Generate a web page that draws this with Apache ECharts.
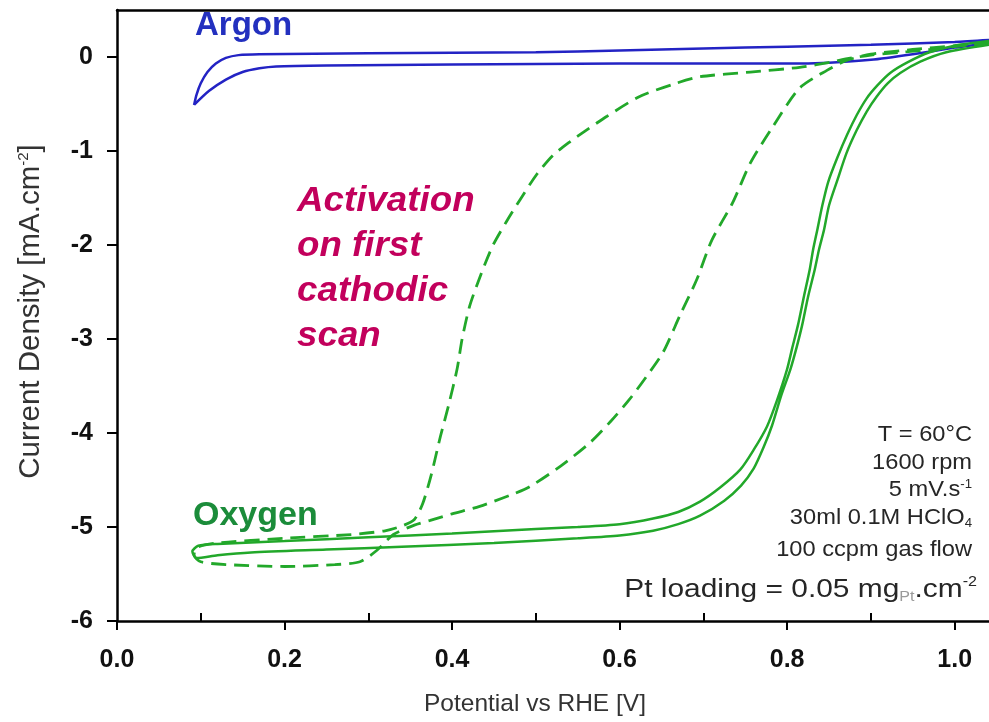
<!DOCTYPE html>
<html>
<head>
<meta charset="utf-8">
<script src="https://cdn.jsdelivr.net/npm/echarts@6/dist/echarts.min.js"></script>
<style>
html,body{margin:0;padding:0;background:#fff;}
#chart{width:989px;height:722px;}
</style>
</head>
<body>
<div id="chart"></div>
<script>
// ---- data (potential V, current density mA/cm2) ----
const xTicks = [0, 0.2, 0.4, 0.6, 0.8, 1.0];
const xMinorTicks = [0.1, 0.3, 0.5, 0.7, 0.9];
const yTicks = [-6, -5, -4, -3, -2, -1, 0];

const argonLoop = [
  [0.092,-0.51],[0.095,-0.40],[0.10,-0.28],[0.108,-0.16],[0.118,-0.07],[0.13,-0.01],[0.145,0.02],[0.17,0.03],
  [0.3,0.04],[0.5,0.05],[0.6,0.07],[0.7,0.09],[0.8,0.11],[0.9,0.13],[1.0,0.16],[1.041,0.18],
  [1.041,0.16],[1.0,0.10],[0.95,0.03],[0.9,-0.03],[0.85,-0.06],[0.8,-0.07],[0.6,-0.07],[0.4,-0.08],
  [0.25,-0.09],[0.19,-0.10],[0.17,-0.12],[0.15,-0.16],[0.13,-0.24],[0.11,-0.36],[0.092,-0.51]
];

const oxygenLoop = [
  [1.041,0.17],[1.0,0.12],[0.97,0.05],[0.943,-0.06],[0.923,-0.17],[0.908,-0.30],[0.895,-0.44],[0.883,-0.62],
  [0.872,-0.82],[0.86,-1.07],[0.849,-1.33],[0.842,-1.58],[0.836,-1.84],[0.831,-2.05],[0.827,-2.26],[0.82,-2.55],[0.813,-2.85],
  [0.806,-3.10],[0.80,-3.32],[0.788,-3.65],[0.776,-3.93],[0.76,-4.18],[0.744,-4.39],[0.72,-4.58],[0.696,-4.73],
  [0.67,-4.84],[0.64,-4.91],[0.6,-4.97],[0.55,-5.00],[0.5,-5.02],[0.4,-5.07],[0.3,-5.11],[0.2,-5.15],
  [0.12,-5.18],[0.097,-5.20],[0.09,-5.26],
  [0.095,-5.33],[0.12,-5.30],[0.16,-5.27],[0.25,-5.24],[0.34,-5.21],[0.45,-5.17],[0.55,-5.12],[0.6,-5.09],
  [0.64,-5.04],[0.67,-4.97],[0.696,-4.88],[0.725,-4.72],[0.745,-4.56],[0.76,-4.38],[0.772,-4.15],[0.782,-3.92],
  [0.793,-3.60],[0.804,-3.32],[0.811,-3.10],[0.818,-2.85],[0.825,-2.55],[0.833,-2.26],[0.838,-2.05],[0.844,-1.84],[0.85,-1.58],
  [0.86,-1.31],[0.871,-1.02],[0.883,-0.78],[0.895,-0.58],[0.907,-0.42],[0.92,-0.28],[0.935,-0.17],[0.959,-0.05],
  [0.99,0.05],[1.041,0.13]
];

const activationScan = [
  [1.041,0.15],[1.0,0.11],[0.96,0.07],[0.935,0.05],[0.9,0.02],[0.87,-0.02],[0.855,-0.05],[0.815,-0.11],
  [0.756,-0.16],[0.696,-0.21],[0.664,-0.29],[0.624,-0.42],[0.585,-0.63],[0.56,-0.78],[0.541,-0.90],[0.52,-1.05],
  [0.501,-1.25],[0.481,-1.52],[0.465,-1.75],[0.449,-2.00],[0.435,-2.30],[0.421,-2.65],[0.412,-3.00],[0.406,-3.32],
  [0.396,-3.70],[0.386,-4.04],[0.375,-4.45],[0.365,-4.75],[0.355,-4.92],[0.34,-4.99],[0.32,-5.04],[0.28,-5.08],
  [0.2,-5.12],[0.12,-5.17],[0.095,-5.22],[0.092,-5.30],[0.10,-5.37],[0.13,-5.40],[0.2,-5.42],[0.26,-5.40],
  [0.29,-5.37],[0.31,-5.25],[0.33,-5.08],[0.355,-4.98],[0.374,-4.93],[0.4,-4.86],[0.433,-4.78],[0.47,-4.66],
  [0.493,-4.57],[0.53,-4.35],[0.565,-4.10],[0.59,-3.87],[0.612,-3.64],[0.632,-3.40],[0.652,-3.14],[0.672,-2.75],
  [0.692,-2.37],[0.71,-1.95],[0.735,-1.55],[0.756,-1.13],[0.783,-0.74],[0.815,-0.33],[0.848,-0.14],[0.87,-0.04],
  [0.9,0.03],[0.95,0.08],[1.0,0.12],[1.041,0.16]
];

const conditions = ['T = 60°C', '1600 rpm', '5 mV.s{sup|-1}', '30ml 0.1M HClO{sub|4}', '100 ccpm gas flow'];

// ---- chart ----
const FONT = '"Liberation Sans", Arial, sans-serif';
const GREEN = '#22a82a';
const BLUE = '#2323c4';
const TXT = '#262626';

const chart = echarts.init(document.getElementById('chart'));

const condY = [435, 463, 490, 518, 550];
const graphics = [
  { type: 'text', x: 195, y: 26, style: { text: 'Argon', font: 'bold 33px ' + FONT, fill: '#2330bf', textVerticalAlign: 'middle' } },
  { type: 'text', x: 193, y: 516, style: { text: 'Oxygen', font: 'bold 34px ' + FONT, fill: '#1b8c3a', textVerticalAlign: 'middle' } },
  { type: 'text', x: 297, y: 179, scaleX: 1.05, style: { text: 'Activation\non first\ncathodic\nscan', font: 'italic bold 35px ' + FONT, fill: '#c2005c', lineHeight: 45, textVerticalAlign: 'top' } }
];
conditions.forEach((t, i) => {
  graphics.push({ type: 'text', x: 972, y: condY[i], scaleX: 1.1, style: {
    text: t, font: '21.5px ' + FONT, fill: TXT, textAlign: 'right', textVerticalAlign: 'middle',
    rich: {
      sup: { fontSize: 12, fontFamily: FONT, fill: TXT, padding: [0,0,11,0] },
      sub: { fontSize: 12, fontFamily: FONT, fill: TXT, padding: [11,0,0,0] }
    }
  }});
});
graphics.push({ type: 'text', x: 977, y: 590, scaleX: 1.15, style: {
  text: 'Pt loading = 0.05 mg{sub|Pt}.cm{sup|-2}', font: '26px ' + FONT, fill: TXT, textAlign: 'right', textVerticalAlign: 'middle',
  rich: {
    sup: { fontSize: 14, fontFamily: FONT, fill: TXT, padding: [0,0,15,0] },
    sub: { fontSize: 14, fontFamily: FONT, fill: '#9a9a9a', padding: [15,0,0,0] }
  }
}});

const option = {
  animation: false,
  backgroundColor: '#fff',
  grid: { left: 117, right: 0, top: 10, bottom: 100, containLabel: false },
  xAxis: [
    {
      type: 'value', min: 0, max: 1.041, position: 'bottom',
      name: 'Potential vs RHE [V]', nameLocation: 'middle', nameGap: 71,
      nameTextStyle: { fontFamily: FONT, fontSize: 24.5, color: '#333', padding: [0, 36, 0, 0] },
      axisLine: { show: true, onZero: false, lineStyle: { color: '#000', width: 2.5 } },
      axisTick: { show: true, inside: false, length: 9, customValues: xTicks, lineStyle: { color: '#000', width: 2 } },
      axisLabel: { show: true, customValues: xTicks, margin: 27, fontFamily: FONT, fontWeight: 'bold', fontSize: 25, color: '#111',
        formatter: v => v.toFixed(1) },
      splitLine: { show: false }
    },
    {
      type: 'value', min: 0, max: 1.041, position: 'bottom', offset: 0,
      axisLine: { show: false, onZero: false },
      axisTick: { show: true, inside: true, length: 8, customValues: xMinorTicks, lineStyle: { color: '#000', width: 2 } },
      axisLabel: { show: false }, splitLine: { show: false }
    },
    {
      type: 'value', min: 0, max: 1.041, position: 'top',
      axisLine: { show: true, onZero: false, lineStyle: { color: '#000', width: 2.5 } },
      axisTick: { show: false }, axisLabel: { show: false }, splitLine: { show: false }
    }
  ],
  yAxis: {
    type: 'value', min: -6, max: 0.5,
    name: 'Current Density [mA.cm{sup|-2}]', nameLocation: 'middle', nameGap: 71, nameRotate: 90,
    nameTextStyle: { fontFamily: FONT, fontSize: 29.5, color: '#333', padding: [0, 0, 0, 8],
      rich: { sup: { fontSize: 15, fontFamily: FONT, color: '#333', padding: [0,0,15,0] } } },
    axisLine: { show: true, onZero: false, lineStyle: { color: '#000', width: 2.5 } },
    axisTick: { show: true, inside: false, length: 10, customValues: yTicks, lineStyle: { color: '#000', width: 2 } },
    axisLabel: { show: true, customValues: yTicks, margin: 24, fontFamily: FONT, fontWeight: 'bold', fontSize: 25, color: '#111' },
    splitLine: { show: false }
  },
  graphic: graphics,
  series: [
    { name: 'Argon', type: 'line', data: argonLoop, xAxisIndex: 0, showSymbol: false, symbol: 'none', smooth: 0.25, clip: true,
      lineStyle: { color: BLUE, width: 2.5 } },
    { name: 'Oxygen', type: 'line', data: oxygenLoop, xAxisIndex: 0, showSymbol: false, symbol: 'none', smooth: 0.25, clip: true,
      lineStyle: { color: GREEN, width: 2.5 } },
    { name: 'Activation', type: 'line', data: activationScan, xAxisIndex: 0, showSymbol: false, symbol: 'none', smooth: 0.25, clip: true,
      lineStyle: { color: GREEN, width: 2.8, type: [15, 8] } }
  ]
};
chart.setOption(option);
</script>
</body>
</html>
